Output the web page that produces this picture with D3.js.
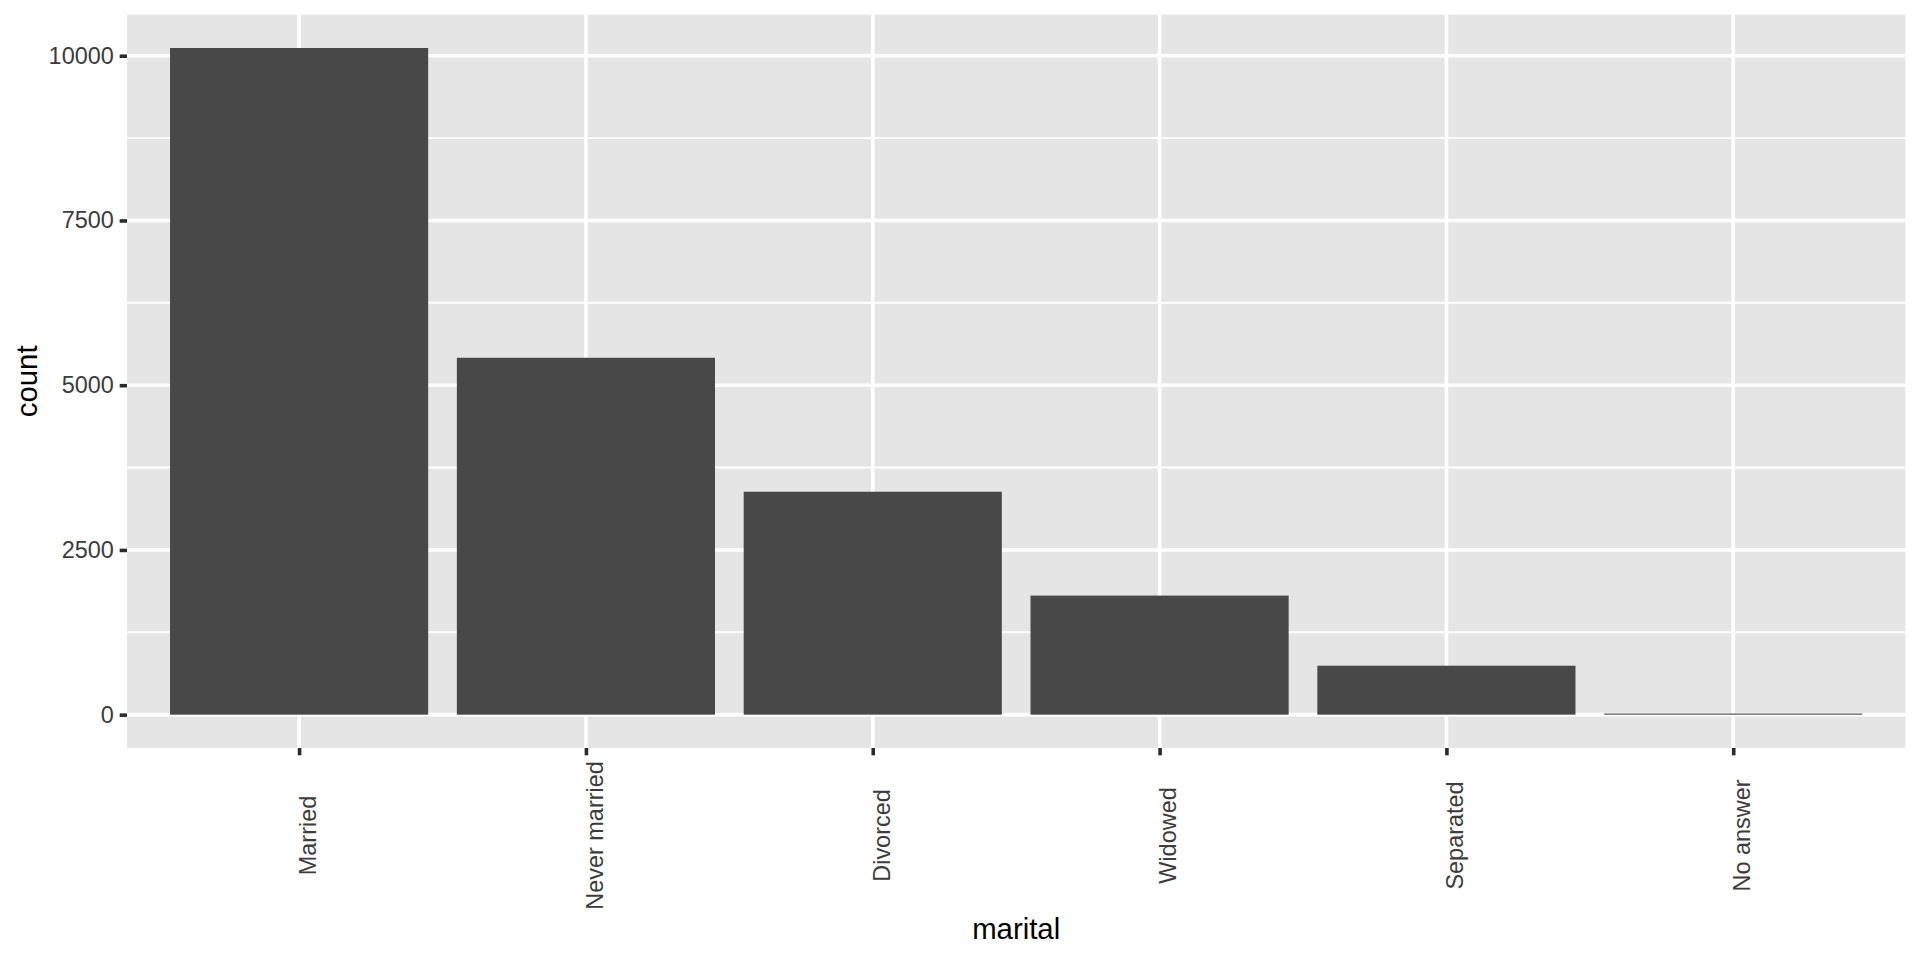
<html>
<head>
  <title>marital counts</title>
  <script src="https://d3js.org/d3.v7.min.js"></script>
</head>
<body style="margin:0; background:#fff;">
<div id="chart"></div>
<script>

// data (gss_cat, marital)
var categories = ["Married", "Never married", "Divorced", "Widowed", "Separated", "No answer"];
var counts = [10117, 5416, 3383, 1807, 743, 17];
var yTicks = [0, 2500, 5000, 7500, 10000];
var yMinor = [1250, 3750, 6250, 8750];

var W = 1920, H = 960;
var pt = 192 / 72;           // picture looks like a 192 dpi ggplot
var margin = 5.5 * pt;
var tickLen = 2.75 * pt;
var axisFont = 8.8 * pt, titleFont = 11 * pt;

var panel = {left: 127, right: W - margin, top: margin, bottom: 748};

var svg = d3.select("#chart").append("svg")
    .attr("width", W)
    .attr("height", H)
    .style("font-family", "'Liberation Sans', Arial, sans-serif");

// discrete x: ggplot pads 0.6 of a band at each end
var n = categories.length;
var step = (panel.right - panel.left) / (n - 1 + 1.2);
var x = d3.scalePoint()
    .domain(categories)
    .range([panel.left + 0.6 * step, panel.right - 0.6 * step]);
var barW = 0.9 * step;

var maxV = d3.max(counts);
var y = d3.scaleLinear()
    .domain([-0.05 * maxV, maxV * 1.05])
    .range([panel.bottom, panel.top]);

svg.append("rect")
    .attr("x", panel.left)
    .attr("y", panel.top)
    .attr("width", panel.right - panel.left)
    .attr("height", panel.bottom - panel.top)
    .attr("fill", "#e5e5e5");

var grid = svg.append("g").attr("stroke", "#fff");

grid.selectAll("line.minor")
    .data(yMinor)
  .enter().append("line")
    .attr("class", "minor")
    .attr("x1", panel.left).attr("x2", panel.right)
    .attr("y1", function(d) { return y(d); })
    .attr("y2", function(d) { return y(d); })
    .attr("stroke-width", 0.25 * 72.27 / 25.4 * pt * 0.5 * 2);

grid.selectAll("line.major")
    .data(yTicks)
  .enter().append("line")
    .attr("class", "major")
    .attr("x1", panel.left).attr("x2", panel.right)
    .attr("y1", function(d) { return y(d); })
    .attr("y2", function(d) { return y(d); })
    .attr("stroke-width", 3.6);

grid.selectAll("line.vmajor")
    .data(categories)
  .enter().append("line")
    .attr("class", "vmajor")
    .attr("y1", panel.top).attr("y2", panel.bottom)
    .attr("x1", function(d) { return x(d); })
    .attr("x2", function(d) { return x(d); })
    .attr("stroke-width", 3.6);

// bars
svg.append("g")
  .selectAll("rect")
    .data(categories)
  .enter().append("rect")
    .attr("x", function(d) { return x(d) - barW / 2; })
    .attr("width", barW)
    .attr("y", function(d, i) { return y(counts[i]); })
    .attr("height", function(d, i) { return y(0) - y(counts[i]); })
    .attr("fill", "#484848");

// y axis
var yAxis = svg.append("g")
    .attr("transform", "translate(" + panel.left + ",0)")
    .call(d3.axisLeft(y).tickValues(yTicks).tickSize(tickLen).tickPadding(2.2 * pt).tickFormat(d3.format("d")));
yAxis.select(".domain").remove();
yAxis.selectAll(".tick line").attr("stroke", "#2b2b2b").attr("stroke-width", 3.6);
yAxis.selectAll(".tick text")
    .attr("fill", "#3c3c3c")
    .style("font-size", axisFont + "px")
    .style("font-family", "'Liberation Sans', Arial, sans-serif");

// x axis, labels turned 90 degrees
var xAxis = svg.append("g")
    .attr("transform", "translate(0," + panel.bottom + ")")
    .call(d3.axisBottom(x).tickSize(tickLen).tickFormat(""));
xAxis.select(".domain").remove();
xAxis.selectAll(".tick line").attr("stroke", "#2b2b2b").attr("stroke-width", 3.6);

var labTop = panel.bottom + tickLen + 2.2 * pt;
var labels = svg.append("g")
  .selectAll("text")
    .data(categories)
  .enter().append("text")
    .text(function(d) { return d; })
    .attr("text-anchor", "middle")
    .attr("dy", "0.72em")
    .attr("fill", "#3c3c3c")
    .style("font-size", axisFont + "px");

var maxW = 0;
labels.each(function() { maxW = Math.max(maxW, this.getComputedTextLength()); });
var labMid = labTop + maxW / 2;
labels.attr("transform", function(d) {
  return "translate(" + x(d) + "," + labMid + ") rotate(-90)";
});

// axis titles
svg.append("text")
    .attr("x", (panel.left + panel.right) / 2)
    .attr("y", labTop + maxW + 2.75 * pt + 0.76 * titleFont)
    .attr("text-anchor", "middle")
    .style("font-size", titleFont + "px")
    .attr("fill", "#000")
    .text("marital");

svg.append("text")
    .attr("transform", "translate(" + (margin + 0.76 * titleFont) + "," + ((panel.top + panel.bottom) / 2) + ") rotate(-90)")
    .attr("text-anchor", "middle")
    .style("font-size", titleFont + "px")
    .attr("fill", "#000")
    .text("count");

</script>
</body>
</html>
